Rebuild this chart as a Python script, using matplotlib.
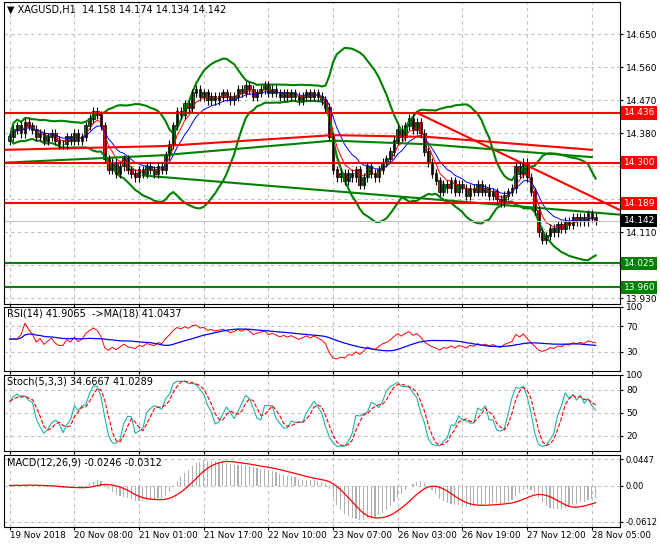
import numpy as np
import pandas as pd
import matplotlib
matplotlib.use("Agg")
import matplotlib.pyplot as plt

# hourly closes
closes = [14.37,14.39,14.40,14.38,14.41,14.40,14.39,14.37,14.38,14.36,14.37,14.38,14.36,14.35,14.35,14.37,14.36,14.38,14.36,14.37,14.40,14.42,14.44,14.43,
          14.40,14.31,14.28,14.30,
          14.27,14.29,14.31,14.28,14.27,14.26,14.28,14.27,14.29,14.28,14.27,14.29,14.28,14.32,
          14.35,14.40,14.44,14.43,14.46,14.45,14.49,14.50,14.48,
          14.49,14.47,14.48,14.47,14.48,14.49,14.48,14.47,14.48,14.50,14.49,14.51,14.50,14.48,14.49,14.50,14.51,14.49,14.50,14.49,14.48,14.49,14.48,14.49,14.48,14.47,14.48,14.49,14.48,14.49,14.48,14.47,14.45,
          14.37,14.28,14.26,14.27,
          14.25,14.27,14.26,14.28,14.24,14.26,14.29,14.27,14.26,14.28,14.30,14.31,14.33,
          14.36,14.39,14.37,14.40,14.42,14.39,14.41,
          14.38,14.33,14.30,14.27,14.25,14.22,14.24,14.23,
          14.25,14.22,14.24,14.23,14.21,14.23,14.22,14.24,14.22,14.23,14.21,14.22,14.20,14.19,14.21,14.22,14.23,
          14.29,14.27,14.30,14.26,14.22,
          14.17,14.11,14.09,
          14.10,14.12,14.11,14.13,14.12,14.14,14.13,14.15,14.14,14.15,14.14,14.16,14.15,14.142]
first_open = 14.36
wick = 0.012

red_levels = [14.436, 14.300, 14.189]
green_levels = [14.025, 13.960]
# trend lines: (bar, price) pairs
red_trend = [(107, 14.436), (160.5, 14.17)]
red_slow = [(-1, 14.335), (40, 14.345), (85, 14.375), (110, 14.37), (153, 14.335)]
green_slow = [(-1, 14.30), (40, 14.32), (85, 14.36), (110, 14.35), (153, 14.315)]
green_down = [(35, 14.265), (160.5, 14.158)]

time_labels = ["19 Nov 2018", "20 Nov 08:00", "21 Nov 01:00", "21 Nov 17:00", "22 Nov 10:00",
               "23 Nov 07:00", "26 Nov 03:00", "26 Nov 19:00", "27 Nov 12:00", "28 Nov 05:00"]
label_step = 17

c = pd.Series(closes)
o = pd.Series([first_open] + closes[:-1])
hi = np.maximum(o, c) + wick
lo = np.minimum(o, c) - wick
n = len(c)
x = np.arange(n)

fig = plt.figure(figsize=(6.6, 5.5), dpi=100)
ax = fig.add_axes([0.006, 0.447, 0.934, 0.55])
ax_rsi = fig.add_axes([0.006, 0.325, 0.934, 0.117])
ax_st = fig.add_axes([0.006, 0.180, 0.934, 0.139])
ax_m = fig.add_axes([0.006, 0.042, 0.934, 0.131])
xlim = (-1.5, 160.5)
gridx = np.arange(len(time_labels)) * label_step
for a in [ax, ax_rsi, ax_st, ax_m]:
    a.set_xlim(*xlim)
    a.set_xticks(gridx)
    a.grid(True, color="#c0c0c0", ls=(0, (3, 3)), lw=0.8)
    a.yaxis.tick_right()
    a.tick_params(labelsize=6.5, length=2, pad=2)
    a.set_axisbelow(True)
for a in [ax, ax_rsi, ax_st]:
    a.tick_params(labelbottom=False)
ax_m.set_xticklabels(time_labels, fontsize=6.3, ha="left")
ax_m.tick_params(axis="x", pad=1)

# main panel
tags = red_levels + green_levels + [closes[-1]]
ax.set_ylim(13.914, 14.739)
yt = np.round(np.arange(13.930, 14.7, 0.09), 3)
ax.set_yticks(yt)
ax.set_yticklabels(["" if min(abs(v - t) for t in tags) < 0.016 else "%.3f" % v for v in yt])

sma = c.rolling(20, min_periods=1).mean()
sd = c.rolling(20, min_periods=1).std().fillna(0)
ax.plot(x, sma + 2 * sd, color="green", lw=1.5)
ax.plot(x, sma - 2 * sd, color="green", lw=1.5)
ax.plot(x, c.ewm(span=5).mean(), color="red", lw=0.7)
ax.plot(x, c.ewm(span=10).mean(), color="blue", lw=0.7)
ax.plot(x, c.ewm(span=3).mean(), color="green", lw=0.6, ls=":")

for pts, col in [(red_trend, "red"), (red_slow, "red"), (green_slow, "green"), (green_down, "green")]:
    px, py = zip(*pts)
    ax.plot(px, py, color=col, lw=1.5)
for v in red_levels:
    ax.axhline(v, color="red", lw=1.5)
for v in green_levels:
    ax.axhline(v, color="green", lw=1.5)

up = c >= o
ax.vlines(x, lo, hi, color="black", lw=0.8)
ax.bar(x[up], (c - o)[up].abs() + 0.002, bottom=o[up], width=0.7, color="green", edgecolor="black", lw=0.5)
ax.bar(x[~up], (o - c)[~up].abs() + 0.002, bottom=c[~up], width=0.7, color="red", edgecolor="black", lw=0.5)
ax.axhline(closes[-1], color="#c0c0c0", lw=0.8)

def tag(a, v, fc, tc="white"):
    a.text(1.005, v, "%.3f" % v, transform=a.get_yaxis_transform(), fontsize=6.5, color=tc,
           va="center", ha="left", bbox=dict(boxstyle="square,pad=0.25", fc=fc, ec="none"), clip_on=False)
for v in red_levels:
    tag(ax, v, "red")
for v in green_levels:
    tag(ax, v, "green")
tag(ax, closes[-1], "black")
ax.text(0.005, 0.99, "\u25bc XAGUSD,H1  14.158 14.174 14.134 14.142", transform=ax.transAxes,
        fontsize=7, va="top")

# RSI
d = c.diff().fillna(0)
g = d.clip(lower=0).ewm(alpha=1 / 14).mean()
l = (-d.clip(upper=0)).ewm(alpha=1 / 14).mean()
rsi = 100 - 100 / (1 + g / l.replace(0, np.nan))
rsi = rsi.fillna(50)
ax_rsi.plot(x, rsi, color="red", lw=0.7)
ax_rsi.plot(x, rsi.rolling(18, min_periods=1).mean(), color="blue", lw=0.9)
ax_rsi.set_ylim(0, 100)
ax_rsi.set_yticks([30, 70, 100])
ax_rsi.text(0.005, 0.97, "RSI(14) 41.9065  ->MA(18) 41.0437", transform=ax_rsi.transAxes, fontsize=7, va="top")

# Stochastic
hh = pd.Series(hi).rolling(5, min_periods=1).max()
ll = pd.Series(lo).rolling(5, min_periods=1).min()
k = (100 * (c - ll) / (hh - ll)).rolling(3, min_periods=1).mean()
dd = k.rolling(3, min_periods=1).mean()
ax_st.plot(x, k, color="lightseagreen", lw=0.8)
ax_st.plot(x, dd, color="red", lw=0.8, ls="--")
ax_st.set_ylim(0, 100)
ax_st.set_yticks([20, 50, 80, 100])
ax_st.text(0.005, 0.97, "Stoch(5,3,3) 34.6667 41.0289", transform=ax_st.transAxes, fontsize=7, va="top")

# MACD
macd = c.ewm(span=12).mean() - c.ewm(span=26).mean()
sig = macd.rolling(9, min_periods=1).mean()
ax_m.bar(x, macd, width=0.3, color="#b0b0b0")
ax_m.plot(x, sig, color="red", lw=0.9)
ax_m.set_ylim(-0.07, 0.052)
ax_m.set_yticks([-0.0612, 0.0, 0.0447])
ax_m.set_yticklabels(["-0.0612", "0.00", "0.0447"], fontsize=6)
ax_m.text(0.005, 0.97, "MACD(12,26,9) -0.0246 -0.0312", transform=ax_m.transAxes, fontsize=7, va="top")

fig.savefig("out.png", dpi=100)
